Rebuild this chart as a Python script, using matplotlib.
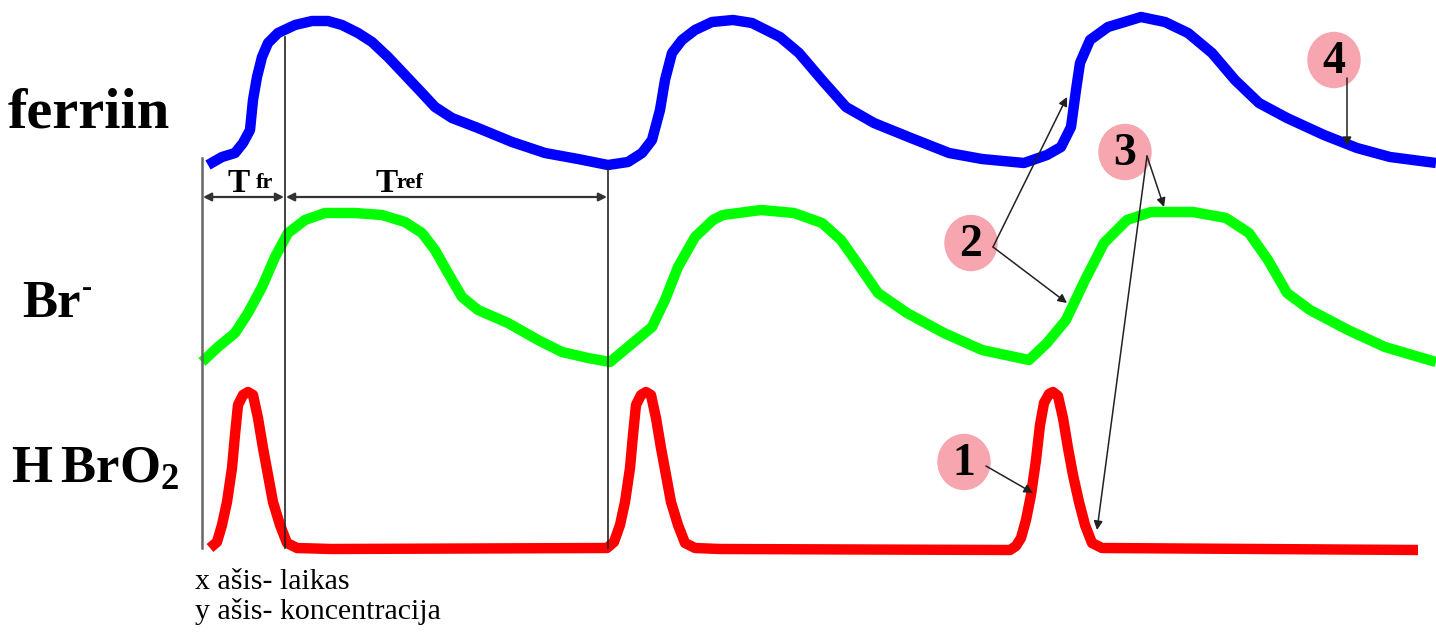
import matplotlib.pyplot as plt
from matplotlib.patches import Ellipse

plt.rcParams['font.family'] = ['Liberation Serif', 'DejaVu Serif']
plt.rcParams['mathtext.fontset'] = 'custom'
plt.rcParams['mathtext.rm'] = 'Liberation Serif'
plt.rcParams['mathtext.bf'] = 'Liberation Serif:bold'

# curves (x = time, y = pixel row, smaller = higher)
ferriin_x = [208, 222, 235, 243, 250, 253, 257, 262, 268, 278, 295, 312, 328, 342, 358, 372,
             388, 405, 422, 435, 452, 478, 512, 545, 578, 608, 628, 642, 652, 660, 665, 672,
             682, 695, 712, 733, 752, 780, 799, 822, 846, 874, 911, 949, 982, 1024, 1047,
             1061, 1071, 1076, 1080, 1090, 1108, 1141, 1165, 1188, 1212, 1235, 1259, 1287,
             1324, 1357, 1390, 1436]
ferriin_y = [165, 157, 153, 143, 130, 100, 77, 57, 43, 33, 25, 21, 21, 25, 33, 42,
             57, 75, 93, 107, 118, 128, 142, 153, 159, 165, 162, 153, 140, 110, 80, 53,
             40, 30, 22, 20, 23, 37, 53, 80, 107, 123, 138, 153, 159, 163, 155,
             147, 127, 90, 63, 40, 27, 17, 22, 33, 53, 80, 103, 118,
             135, 148, 157, 163]

br_x = [202, 218, 235, 248, 262, 275, 288, 305, 325, 355, 382, 405, 422, 435, 448, 462, 478,
        508, 538, 562, 588, 610, 628, 652, 665, 678, 695, 713, 723, 761, 794, 822, 841, 860,
        878, 907, 944, 982, 1029, 1047, 1066, 1085, 1104, 1127, 1151, 1193, 1226, 1249, 1268,
        1287, 1310, 1348, 1385, 1436]
br_y = [362, 347, 333, 313, 287, 257, 233, 220, 213, 213, 215, 222, 233, 250, 273, 297, 310,
        323, 340, 352, 358, 362, 347, 327, 300, 267, 237, 220, 215, 210, 213, 223, 240, 267,
        293, 313, 333, 350, 360, 343, 320, 280, 243, 220, 212, 212, 218, 233, 260,
        293, 310, 330, 347, 362]

hbro2_x = [210, 217, 222, 227, 232, 235, 238, 243, 248, 253, 258, 263, 268, 273, 280, 287, 297,
           331, 607, 614, 620, 625, 630, 633, 636, 641, 646, 651, 656, 661, 666, 671, 678, 685,
           695, 720, 1010, 1016, 1021, 1026, 1031, 1036, 1040, 1044, 1049, 1053, 1058, 1063,
           1068, 1073, 1079, 1085, 1092, 1102, 1418]
hbro2_y = [548, 542, 525, 502, 468, 435, 405, 395, 392, 395, 418, 448, 475, 502, 525, 543, 548,
           549, 548, 542, 525, 502, 468, 435, 405, 395, 392, 395, 418, 448, 475, 502, 525, 543,
           548, 549, 550, 546, 538, 520, 495, 460, 425, 403, 394, 392, 396, 418,
           448, 475, 502, 525, 543, 548, 550]

# numbered markers: label, centre, arrow targets
marker_labels = ['1', '2', '3', '4']
marker_xy = [(964, 462), (971, 243), (1125, 152), (1334, 60)]
marker_targets = [[(1033, 493)],
                  [(1067, 97), (1067, 303)],
                  [(1164, 207), (1097, 530)],
                  [(1347, 146)]]

fig = plt.figure(figsize=(14.36, 6.33), dpi=100)
ax = fig.add_axes([0, 0, 1, 1])
ax.set_xlim(0, 1436)
ax.set_ylim(633, 0)
ax.axis('off')

ax.plot(ferriin_x, ferriin_y, color='#0000ff', lw=7.5, solid_joinstyle='round', solid_capstyle='butt')
ax.plot(br_x, br_y, color='#00ff00', lw=7.5, solid_joinstyle='round', solid_capstyle='butt')
ax.plot(hbro2_x, hbro2_y, color='#ff0000', lw=7.5, solid_joinstyle='round', solid_capstyle='butt')

# period markers
ax.plot([202, 202], [158, 548], color='#666666', lw=1.8)
ax.plot([285, 285], [37, 548], color='#222222', lw=1.2)
ax.plot([608, 608], [168, 548], color='#222222', lw=1.2)
for x0, x1 in [(203, 284), (286, 607)]:
    ax.annotate('', xy=(x1, 197), xytext=(x0, 197),
                arrowprops=dict(arrowstyle='<|-|>', color='#333333', lw=1.6,
                                mutation_scale=12, shrinkA=0, shrinkB=0))
ax.text(228, 192, 'T', fontsize=24, fontweight='bold', va='baseline')
ax.text(256, 188, 'fr', fontsize=16, fontweight='bold', va='baseline')
ax.text(376, 192, 'T', fontsize=24, fontweight='bold', va='baseline')
ax.text(396, 188, 'ref', fontsize=16, fontweight='bold', va='baseline')

# species names
ax.text(8, 127, 'ferriin', fontsize=42, fontweight='bold', va='baseline')
ax.text(22, 317, 'Br', fontsize=38, fontweight='bold', va='baseline')
ax.text(82, 296, '-', fontsize=22, fontweight='bold', va='baseline')
ax.text(11, 483, r'$\mathbf{H\,BrO_2}$', fontsize=38, va='baseline')

ax.text(195, 589, 'x ašis- laikas', fontsize=21.5, va='baseline')
ax.text(195, 619, 'y ašis- koncentracija', fontsize=21.5, va='baseline')

for lab, (cx, cy), targets in zip(marker_labels, marker_xy, marker_targets):
    ax.add_patch(Ellipse((cx, cy), 52, 55, color='#f7a5af', zorder=4))
    ax.text(cx, cy + 2, lab, fontsize=33, fontweight='bold', ha='center', va='center', zorder=5)
    for tx, ty in targets:
        sx = cx + 22 if lab != '4' else tx
        sy = cy + 4 if lab != '4' else cy + 18
        ax.annotate('', xy=(tx, ty), xytext=(sx, sy), zorder=6,
                    arrowprops=dict(arrowstyle='-|>', color='#222222', lw=1.1,
                                    mutation_scale=13, shrinkA=0, shrinkB=0))

fig.savefig('out.png', dpi=100)
